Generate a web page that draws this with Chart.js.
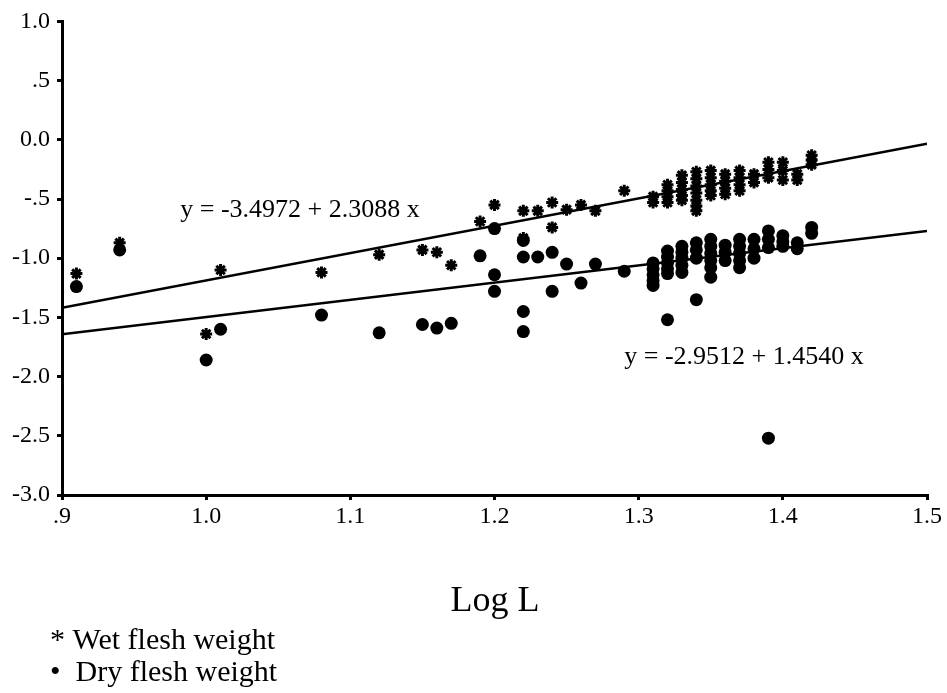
<!DOCTYPE html>
<html>
<head>
<meta charset="utf-8">
<script src="https://cdn.jsdelivr.net/npm/chart.js@4"></script>
<style>
  html, body { margin: 0; padding: 0; background: #fff; }
  #wrap { width: 947px; height: 693px; position: relative; }
</style>
</head>
<body>
<div id="wrap"><canvas id="chartLogL"></canvas></div>
<script>
// valores (log L contra log peso)
const xTicks = [0.9, 1.0, 1.1, 1.2, 1.3, 1.4, 1.5];
const yTicks = [1.0, 0.5, 0.0, -0.5, -1.0, -1.5, -2.0, -2.5, -3.0];

const wetPoints = [
    [0.91, -1.13], [0.94, -0.87], [1.00, -1.64], [1.01, -1.10], [1.08, -1.12],
    [1.12, -0.97], [1.15, -0.93], [1.16, -0.95], [1.17, -1.06], [1.19, -0.69],
    [1.20, -0.55], [1.22, -0.60], [1.22, -0.83], [1.23, -0.60], [1.24, -0.53],
    [1.24, -0.74], [1.25, -0.59], [1.26, -0.55], [1.27, -0.60], [1.29, -0.43],
    [1.31, -0.48], [1.31, -0.53],
    [1.32, -0.38], [1.32, -0.43], [1.32, -0.48], [1.32, -0.53],
    [1.33, -0.30], [1.33, -0.36], [1.33, -0.42], [1.33, -0.47], [1.33, -0.51],
    [1.34, -0.27], [1.34, -0.33], [1.34, -0.39], [1.34, -0.45], [1.34, -0.51], [1.34, -0.56], [1.34, -0.60],
    [1.35, -0.26], [1.35, -0.32], [1.35, -0.38], [1.35, -0.43], [1.35, -0.47],
    [1.36, -0.29], [1.36, -0.35], [1.36, -0.41], [1.36, -0.46],
    [1.37, -0.26], [1.37, -0.32], [1.37, -0.38], [1.37, -0.43],
    [1.38, -0.29], [1.38, -0.36],
    [1.39, -0.19], [1.39, -0.25], [1.39, -0.32],
    [1.40, -0.19], [1.40, -0.26], [1.40, -0.34],
    [1.41, -0.29], [1.41, -0.34],
    [1.42, -0.13], [1.42, -0.17], [1.42, -0.21]
];

const dryPoints = [
    [0.91, -1.24], [0.94, -0.93], [1.00, -1.86], [1.01, -1.60], [1.08, -1.48],
    [1.12, -1.63], [1.15, -1.56], [1.16, -1.59], [1.17, -1.55], [1.19, -0.98],
    [1.20, -0.75], [1.20, -1.14], [1.20, -1.28], [1.22, -0.85], [1.22, -0.99],
    [1.22, -1.45], [1.22, -1.62], [1.23, -0.99], [1.24, -0.95], [1.24, -1.28],
    [1.25, -1.05], [1.26, -1.21], [1.27, -1.05], [1.29, -1.11], [1.32, -1.52],
    [1.34, -1.35], [1.39, -2.52],
    [1.31, -1.04], [1.31, -1.09], [1.31, -1.14], [1.31, -1.19], [1.31, -1.23],
    [1.32, -0.94], [1.32, -0.99], [1.32, -1.04], [1.32, -1.09], [1.32, -1.13],
    [1.33, -0.90], [1.33, -0.95], [1.33, -1.00], [1.33, -1.06], [1.33, -1.12],
    [1.34, -0.87], [1.34, -0.93], [1.34, -1.00],
    [1.35, -0.84], [1.35, -0.90], [1.35, -0.96], [1.35, -1.02], [1.35, -1.08], [1.35, -1.16],
    [1.36, -0.89], [1.36, -0.95], [1.36, -1.02],
    [1.37, -0.84], [1.37, -0.90], [1.37, -0.96], [1.37, -1.02], [1.37, -1.08],
    [1.38, -0.84], [1.38, -0.92], [1.38, -1.00],
    [1.39, -0.77], [1.39, -0.84], [1.39, -0.91],
    [1.40, -0.81], [1.40, -0.86], [1.40, -0.90],
    [1.41, -0.87], [1.41, -0.92],
    [1.42, -0.74], [1.42, -0.79]
];

// retas de regressão indicadas no gráfico
const wetFit = { a: -3.4972, b: 2.3088 };
const dryFit = { a: -2.9512, b: 1.4540 };

const serif = "'Liberation Serif', 'Times New Roman', serif";

function fitLine(fit) {
    return [xTicks[0], xTicks[xTicks.length - 1]].map(x => ({ x: x, y: fit.a + fit.b * x }));
}

function fmt(v) {
    let s = Number(v).toFixed(1);
    return s.replace(/^(-?)0\.([1-9])/, '$1.$2');
}

const textos = {
    id: 'textos',
    afterDraw(chart) {
        const ctx = chart.ctx;
        const xs = chart.scales.x, ys = chart.scales.y;
        ctx.save();
        ctx.fillStyle = '#000';
        ctx.textBaseline = 'alphabetic';
        ctx.textAlign = 'left';
        ctx.font = '26px ' + serif;
        ctx.fillText('y = -3.4972 + 2.3088 x', xs.getPixelForValue(0.982), ys.getPixelForValue(-0.65));
        ctx.fillText('y = -2.9512 + 1.4540 x', xs.getPixelForValue(1.290), ys.getPixelForValue(-1.89));

        ctx.textAlign = 'center';
        ctx.font = '36px ' + serif;
        ctx.fillText('Log L', 495, 611);

        ctx.textAlign = 'left';
        ctx.font = '30px ' + serif;
        ctx.fillText('* Wet flesh weight', 50, 649);
        ctx.fillText('\u2022  Dry flesh weight', 50, 681);
        ctx.restore();
    }
};

new Chart(document.getElementById('chartLogL'), {
    type: 'scatter',
    data: {
        datasets: [{
            label: 'Wet flesh weight',
            data: wetPoints.map(p => ({ x: p[0], y: p[1] })),
            pointStyle: 'star',
            pointRadius: 6,
            borderColor: '#000',
            backgroundColor: '#000',
            borderWidth: 3
        }, {
            label: 'Dry flesh weight',
            data: dryPoints.map(p => ({ x: p[0], y: p[1] })),
            pointStyle: 'circle',
            pointRadius: 6.5,
            borderWidth: 0,
            backgroundColor: '#000'
        }, {
            type: 'line',
            data: fitLine(wetFit),
            borderColor: '#000',
            borderWidth: 2.5,
            pointRadius: 0
        }, {
            type: 'line',
            data: fitLine(dryFit),
            borderColor: '#000',
            borderWidth: 2.5,
            pointRadius: 0
        }]
    },
    options: {
        responsive: true,
        maintainAspectRatio: false,
        animation: false,
        layout: { padding: { top: 18, right: 20, left: 0, bottom: 0 } },
        plugins: { legend: { display: false }, tooltip: { enabled: false } },
        scales: {
            x: {
                type: 'linear',
                min: 0.9, max: 1.5,
                afterBuildTicks: s => { s.ticks = xTicks.map(v => ({ value: v })); },
                afterFit: s => { s.height = 198; },
                border: { color: '#000', width: 3 },
                grid: { drawOnChartArea: false, drawTicks: true, tickLength: 5, color: '#000', lineWidth: 3 },
                ticks: { color: '#000', font: { family: serif, size: 24 }, padding: 2, callback: v => fmt(v), maxRotation: 0 }
            },
            y: {
                type: 'linear',
                min: -3.0, max: 1.0,
                afterBuildTicks: s => { s.ticks = yTicks.map(v => ({ value: v })); },
                afterFit: s => { s.width = 62; },
                border: { color: '#000', width: 3 },
                grid: { drawOnChartArea: false, drawTicks: true, tickLength: 5, color: '#000', lineWidth: 3 },
                ticks: { color: '#000', font: { family: serif, size: 24 }, padding: 7, callback: v => fmt(v) }
            }
        }
    },
    plugins: [textos]
});
</script>
</body>
</html>
